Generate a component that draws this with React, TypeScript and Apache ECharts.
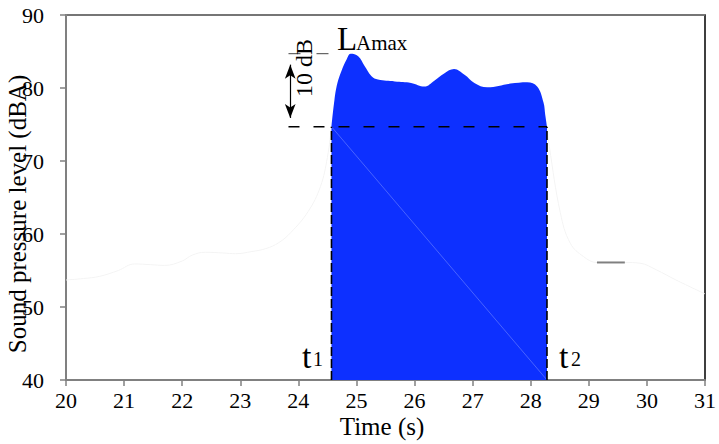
import React, { useEffect, useRef } from "react";
import * as echarts from "echarts";

// ---- data ----
const timeLeft = [20.0, 20.3, 20.58, 20.9, 21.18, 21.45, 21.7, 22.0, 22.17, 22.4, 22.7, 22.92, 23.2, 23.44, 23.66, 23.87, 24.17, 24.38, 24.5, 24.57];
const levelLeft = [53.7, 53.9, 54.2, 55.0, 55.9, 55.8, 55.7, 56.3, 57.1, 57.5, 57.4, 57.3, 57.6, 58.0, 58.8, 60.2, 63.1, 66.5, 70.5, 74.7];

const timeEvent = [24.57, 24.62, 24.67, 24.74, 24.83, 24.9, 25.03, 25.14, 25.26, 25.37, 25.66, 25.94, 26.17, 26.34, 26.51, 26.68, 26.86, 27.03, 27.25, 27.65, 27.94, 28.11, 28.22, 28.25, 28.28];
const levelEvent = [74.7, 78.3, 80.6, 82.3, 83.9, 84.7, 84.35, 83.0, 81.6, 81.15, 80.9, 80.7, 80.2, 81.0, 82.0, 82.6, 81.8, 80.7, 80.1, 80.6, 80.8, 80.2, 78.0, 76.3, 74.7];

const timeRight = [28.28, 28.32, 28.51, 28.68, 28.91, 29.14, 29.62, 29.88, 30.16, 30.5, 31.0];
const levelRight = [74.7, 72.0, 62.9, 58.75, 56.9, 56.1, 56.1, 56.0, 55.1, 53.7, 51.8];

const t1 = 24.57;
const t2 = 28.28;
const laMax = 84.7;
const laMaxMinus10 = 74.7;
const arrowTime = 23.86;
const dashStart = 23.83;
const grayMarkTime = [29.14, 29.62];
const grayMarkLevel = 56.1;

const xMin = 20, xMax = 31, xStep = 1;
const yMin = 40, yMax = 90, yStep = 10;

const zip = (a: number[], b: number[]) => a.map((v, i) => [v, b[i]]);

const SERIF = "Liberation Serif";
const BLUE = "#0d30ff";

export default function App() {
  const ref = useRef<HTMLDivElement>(null);
  useEffect(() => {
    document.body.style.margin = "0";
    if (!ref.current) return;
    const chart = echarts.init(ref.current, undefined, { renderer: "svg" });
    const option: any = {
      animation: false,
      backgroundColor: "#ffffff",
      grid: { left: 66, right: 10, top: 15, bottom: 64, show: true, borderColor: "#000", borderWidth: 1.5, backgroundColor: "transparent" },
      xAxis: {
        type: "value", min: xMin, max: xMax, interval: xStep,
        axisLine: { show: true, lineStyle: { color: "#808080", width: 2 } },
        axisTick: { show: true, length: 6, lineStyle: { color: "#808080", width: 1.5 } },
        axisLabel: { color: "#000", fontSize: 22, fontFamily: SERIF, margin: 9 },
        splitLine: { show: false },
      },
      yAxis: {
        type: "value", min: yMin, max: yMax, interval: yStep,
        axisLine: { show: true, lineStyle: { color: "#808080", width: 2 } },
        axisTick: { show: true, length: 6, lineStyle: { color: "#808080", width: 1.5 } },
        axisLabel: { color: "#000", fontSize: 22, fontFamily: SERIF, margin: 22 },
        splitLine: { show: false },
      },
      series: [
        {
          type: "line", data: zip(timeLeft, levelLeft), smooth: 0.4, symbol: "none",
          lineStyle: { color: "#f4f4f4", width: 1 }, silent: true, z: 1,
          markLine: {
            silent: true, symbol: "none", label: { show: false },
            lineStyle: { color: "#8a8a8a", width: 1.5, type: "solid" },
            data: [{ yAxis: yMax }],
          },
        },
        {
          type: "line", data: zip(timeRight, levelRight), smooth: 0.4, symbol: "none",
          lineStyle: { color: "#f4f4f4", width: 1 }, silent: true, z: 1,
        },
        {
          type: "line", data: zip(timeEvent, levelEvent), smooth: 0.4, symbol: "none",
          lineStyle: { width: 0, color: BLUE },
          areaStyle: { color: BLUE, opacity: 1, origin: "start" }, silent: true, z: 2,
        },
        {
          type: "line", data: [[t1, laMaxMinus10], [t2, yMin]], symbol: "none",
          lineStyle: { color: "rgba(170,185,255,0.55)", width: 0.7 }, silent: true, z: 3,
        },
        {
          type: "line", data: [[dashStart, laMaxMinus10], [t2, laMaxMinus10]], symbol: "none",
          lineStyle: { color: "#000", width: 1.5, type: [11, 14] }, silent: true, z: 4,
        },
        {
          type: "line", data: [[dashStart, laMax], [t1 + 0.05, laMax]], symbol: "none",
          lineStyle: { color: "#444", width: 1, type: [12, 16] }, silent: true, z: 4,
        },
        {
          type: "line", data: [[t1, yMin], [t1, laMaxMinus10]], symbol: "none",
          lineStyle: { color: "#000", width: 1.6, type: [9, 3] }, silent: true, z: 4,
        },
        {
          type: "line", data: [[t2, yMin], [t2, laMaxMinus10]], symbol: "none",
          lineStyle: { color: "#000", width: 1.6, type: [9, 3] }, silent: true, z: 4,
        },
        {
          type: "line", data: [[grayMarkTime[0], grayMarkLevel], [grayMarkTime[1], grayMarkLevel]], symbol: "none",
          lineStyle: { color: "#808080", width: 2 }, silent: true, z: 4,
          markLine: {
            silent: true,
            symbol: ["arrow", "arrow"], symbolSize: [8, 14],
            label: { show: false },
            lineStyle: { color: "#000", width: 1.2, type: "solid" },
            data: [[{ coord: [arrowTime, laMax - 1.5] }, { coord: [arrowTime, laMaxMinus10 + 1.2] }]],
          },
        },
      ],
      graphic: [
        { type: "text", x: 337, y: 39, z: 10, style: { text: "L", fontSize: 33, fontFamily: SERIF, fill: "#000", align: "left", verticalAlign: "middle" } },
        { type: "text", x: 356, y: 43, z: 10, style: { text: "Amax", fontSize: 21, fontFamily: SERIF, fill: "#000", align: "left", verticalAlign: "middle" } },
        { type: "text", x: 304, y: 68, rotation: Math.PI / 2, z: 10, style: { text: "10 dB", fontSize: 24, fontFamily: SERIF, fill: "#000", align: "center", verticalAlign: "middle" } },
        { type: "text", x: 302, y: 356, z: 10, style: { text: "t", fontSize: 34, fontFamily: SERIF, fill: "#000", align: "left", verticalAlign: "middle" } },
        { type: "text", x: 313, y: 359, z: 10, style: { text: "1", fontSize: 20, fontFamily: SERIF, fill: "#000", align: "left", verticalAlign: "middle" } },
        { type: "text", x: 559, y: 356, z: 10, style: { text: "t", fontSize: 34, fontFamily: SERIF, fill: "#000", align: "left", verticalAlign: "middle" } },
        { type: "text", x: 571, y: 359, z: 10, style: { text: "2", fontSize: 20, fontFamily: SERIF, fill: "#000", align: "left", verticalAlign: "middle" } },
        { type: "text", x: 382, y: 426, z: 10, style: { text: "Time (s)", fontSize: 25, fontFamily: SERIF, fill: "#000", align: "center", verticalAlign: "middle" } },
        { type: "text", x: 17, y: 214, rotation: Math.PI / 2, z: 10, style: { text: "Sound pressure level (dBA)", fontSize: 25, fontFamily: SERIF, fill: "#000", align: "center", verticalAlign: "middle" } },
      ],
    };
    chart.setOption(option);
    return () => chart.dispose();
  }, []);
  return <div ref={ref} style={{ width: 719, height: 444 }} />;
}
